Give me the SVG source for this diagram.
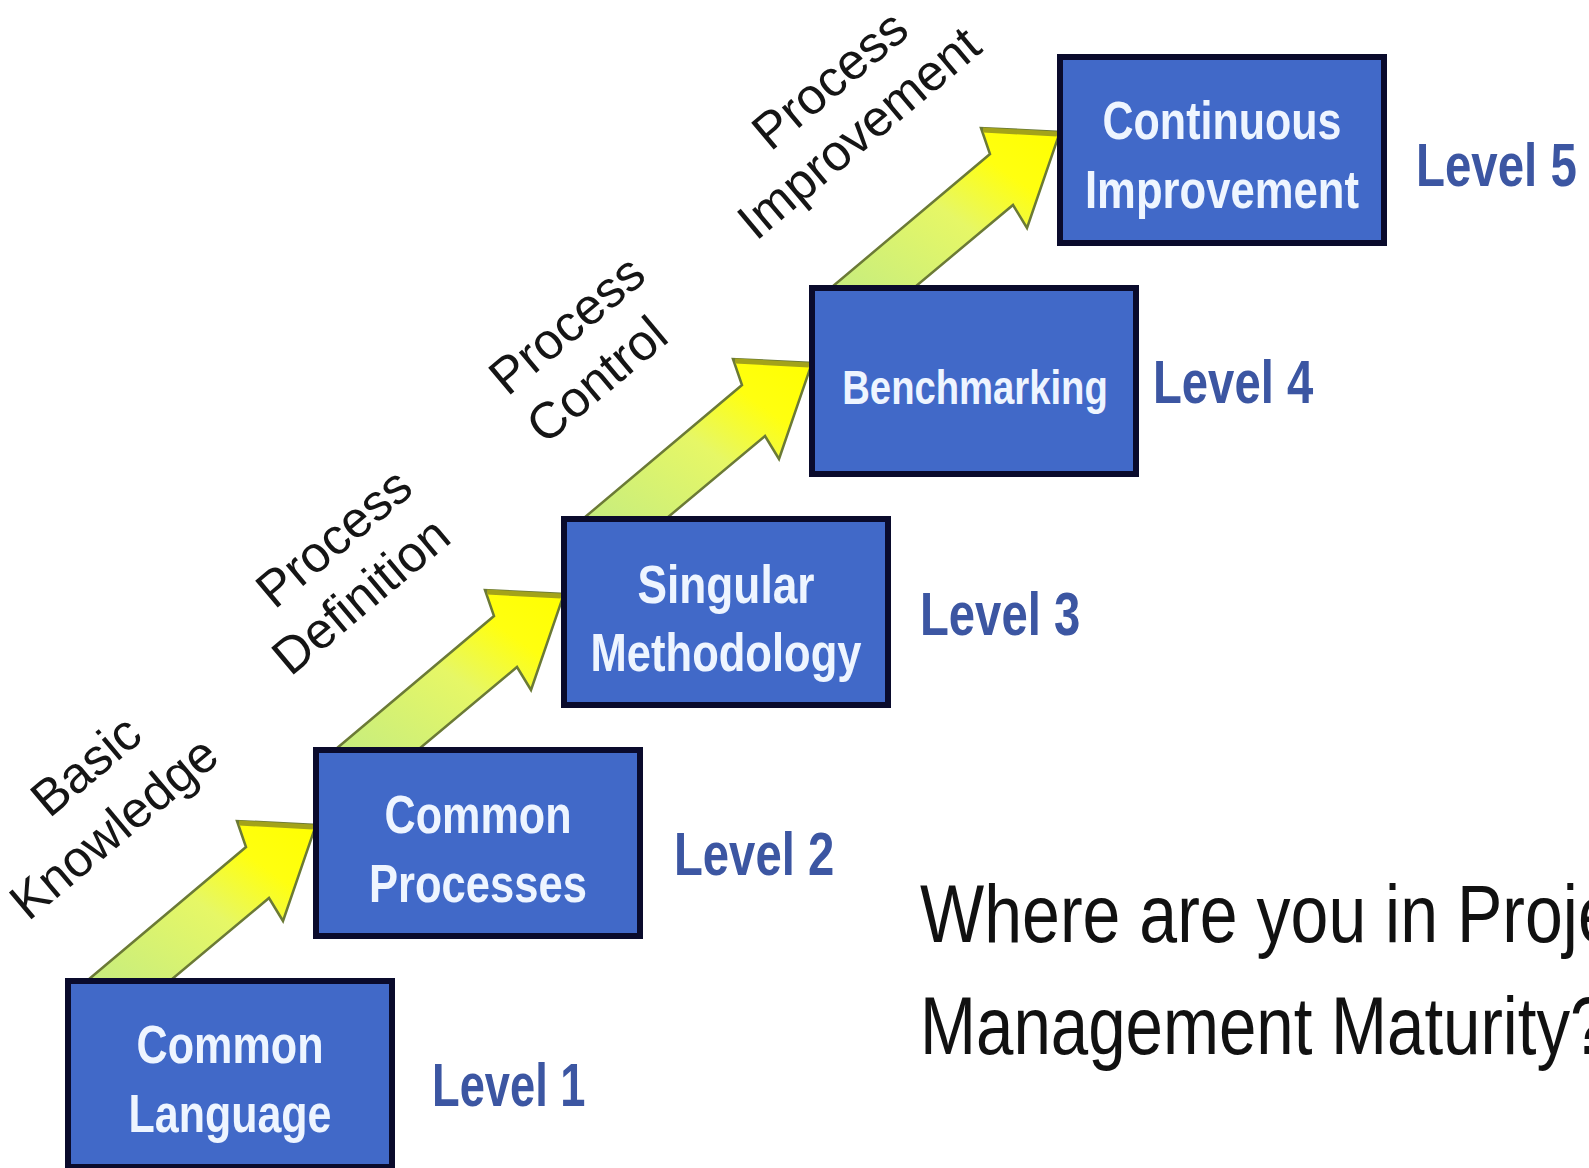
<svg xmlns="http://www.w3.org/2000/svg" width="1589" height="1168" viewBox="0 0 1589 1168">
<style>
.box{fill:#4169c8;stroke:#0a0b2c;stroke-width:6}
.bt{font-family:"Liberation Sans",Arial,sans-serif;font-weight:bold;font-size:54px;fill:#eef5ff;text-anchor:middle}
.lv{font-family:"Liberation Sans",Arial,sans-serif;font-weight:bold;font-size:62px;fill:#3c56a2}
.st{font-family:"Liberation Sans",Arial,sans-serif;font-size:51px;fill:#151515;text-anchor:middle}
.q{font-family:"Liberation Sans",Arial,sans-serif;font-size:81px;fill:#111}
.arr{fill:url(#g);stroke:#6b7a36;stroke-width:2.5;stroke-linejoin:miter}
.hd{stroke:#a3a31a;stroke-width:5;fill:none}
</style>
<defs>
<linearGradient id="g" x1="0" y1="1" x2="1" y2="0">
<stop offset="0" stop-color="#c4ec80"/>
<stop offset="0.5" stop-color="#e6f766"/>
<stop offset="0.75" stop-color="#ffff10"/>
<stop offset="1" stop-color="#ffff00"/>
</linearGradient>
<g id="arrow">
<polygon class="arr" points="82,985 246,847 237,821 316,825 283,921 269,898 165,985"/>
<line class="hd" x1="239" y1="823" x2="313" y2="827"/>
</g>
</defs>
<rect width="1589" height="1168" fill="#ffffff"/>
<g id="connectors">
<use href="#arrow"/>
<use href="#arrow" transform="translate(248,-231)"/>
<use href="#arrow" transform="translate(496,-462)"/>
<use href="#arrow" transform="translate(744,-693)"/>
</g>
<g id="stage-labels">
<text class="st" transform="translate(97,779) rotate(-40)">Basic</text>
<text class="st" transform="translate(125,841) rotate(-40)">Knowledge</text>
<text class="st" transform="translate(345,551) rotate(-40)">Process</text>
<text class="st" transform="translate(372,609) rotate(-40)">Definition</text>
<text class="st" transform="translate(578,338) rotate(-40)">Process</text>
<text class="st" transform="translate(608,393) rotate(-40)">Control</text>
<text class="st" transform="translate(841,93) rotate(-40)">Process</text>
<text class="st" transform="translate(870,146) rotate(-40)">Improvement</text>
</g>
<g id="level1">
<rect class="box" x="68" y="981" width="324" height="186"/>
<text class="bt" x="230" y="1063" textLength="187" lengthAdjust="spacingAndGlyphs">Common</text>
<text class="bt" x="230" y="1132" textLength="203" lengthAdjust="spacingAndGlyphs">Language</text>
<text class="lv" transform="translate(432,1106) scale(0.73,1)">Level 1</text>
</g>
<g id="level2">
<rect class="box" x="316" y="750" width="324" height="186"/>
<text class="bt" x="478" y="833" textLength="187" lengthAdjust="spacingAndGlyphs">Common</text>
<text class="bt" x="478" y="902" textLength="218" lengthAdjust="spacingAndGlyphs">Processes</text>
<text class="lv" transform="translate(674,875) scale(0.762,1)">Level 2</text>
</g>
<g id="level3">
<rect class="box" x="564" y="519" width="324" height="186"/>
<text class="bt" x="726" y="603" textLength="177" lengthAdjust="spacingAndGlyphs">Singular</text>
<text class="bt" x="726" y="671" textLength="271" lengthAdjust="spacingAndGlyphs">Methodology</text>
<text class="lv" transform="translate(920,635) scale(0.762,1)">Level 3</text>
</g>
<g id="level4">
<rect class="box" x="812" y="288" width="324" height="186"/>
<text class="bt" transform="translate(975,404) scale(0.78,1)" style="font-size:49px">Benchmarking</text>
<text class="lv" transform="translate(1153,403) scale(0.762,1)">Level 4</text>
</g>
<g id="level5">
<rect class="box" x="1060" y="57" width="324" height="186"/>
<text class="bt" x="1222" y="139" textLength="239" lengthAdjust="spacingAndGlyphs">Continuous</text>
<text class="bt" x="1222" y="208" textLength="274" lengthAdjust="spacingAndGlyphs">Improvement</text>
<text class="lv" transform="translate(1416,186) scale(0.765,1)">Level 5</text>
</g>
<g id="question">
<text class="q" transform="translate(920,942) scale(0.84,1)">Where are you in Project</text>
<text class="q" transform="translate(920,1054) scale(0.83,1)">Management Maturity?</text>
</g>
</svg>
